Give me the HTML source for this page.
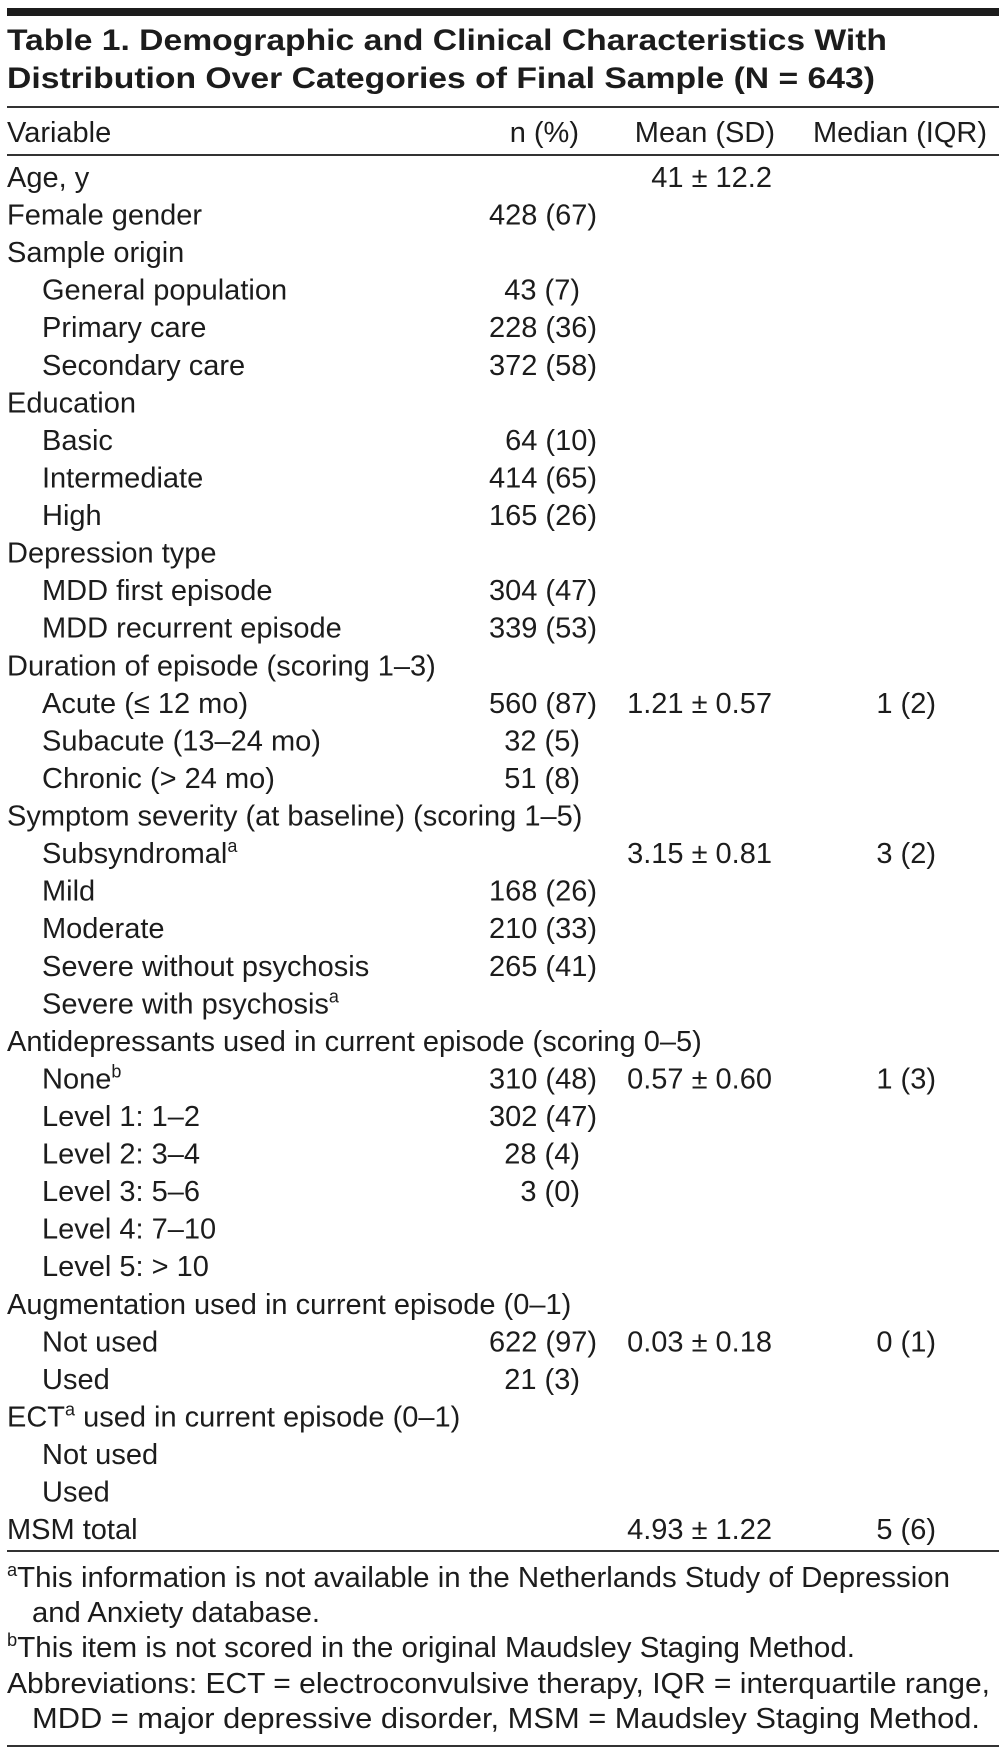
<!DOCTYPE html>
<html><head><meta charset="utf-8"><style>
html,body{margin:0;padding:0;background:#fff;}
svg{display:block;}
text{font-family:"Liberation Sans",sans-serif;font-size:29px;fill:#1c1c1c;}
.t{font-weight:bold;font-size:30px;}
.r{text-anchor:end;}
</style></head><body>
<svg width="999" height="1755" viewBox="0 0 999 1755" xmlns="http://www.w3.org/2000/svg">
<rect x="7" y="8" width="992" height="8" fill="#1c1c1c"/>
<text class="t" x="7" y="50" textLength="880" lengthAdjust="spacingAndGlyphs">Table 1. Demographic and Clinical Characteristics With</text>
<text class="t" x="7" y="88" textLength="868" lengthAdjust="spacingAndGlyphs">Distribution Over Categories of Final Sample (N = 643)</text>
<rect x="7" y="106" width="992" height="2" fill="#333"/>
<text x="7" y="142">Variable</text>
<text class="r" x="579" y="142">n (%)</text>
<text class="r" x="775" y="142">Mean (SD)</text>
<text class="r" x="987" y="142">Median (IQR)</text>
<rect x="7" y="154" width="992" height="2" fill="#333"/>

<g>
<text x="7" y="187">Age, y</text><text class="r" x="772" y="187">41 ± 12.2</text>
<text x="7" y="224.6">Female gender</text><text class="r" x="597" y="224.6">428 (67)</text>
<text x="7" y="262.1">Sample origin</text>
<text x="42" y="299.7">General population</text><text class="r" x="580" y="299.7">43 (7)</text>
<text x="42" y="337.2">Primary care</text><text class="r" x="597" y="337.2">228 (36)</text>
<text x="42" y="374.8">Secondary care</text><text class="r" x="597" y="374.8">372 (58)</text>
<text x="7" y="412.4">Education</text>
<text x="42" y="449.9">Basic</text><text class="r" x="597" y="449.9">64 (10)</text>
<text x="42" y="487.5">Intermediate</text><text class="r" x="597" y="487.5">414 (65)</text>
<text x="42" y="525">High</text><text class="r" x="597" y="525">165 (26)</text>
<text x="7" y="562.6">Depression type</text>
<text x="42" y="600.2">MDD first episode</text><text class="r" x="597" y="600.2">304 (47)</text>
<text x="42" y="637.7">MDD recurrent episode</text><text class="r" x="597" y="637.7">339 (53)</text>
<text x="7" y="675.3">Duration of episode (scoring 1–3)</text>
<text x="42" y="712.8">Acute (≤ 12 mo)</text><text class="r" x="597" y="712.8">560 (87)</text><text class="r" x="772" y="712.8">1.21 ± 0.57</text><text class="r" x="936" y="712.8">1 (2)</text>
<text x="42" y="750.4">Subacute (13–24 mo)</text><text class="r" x="580" y="750.4">32 (5)</text>
<text x="42" y="788">Chronic (&gt; 24 mo)</text><text class="r" x="580" y="788">51 (8)</text>
<text x="7" y="825.5">Symptom severity (at baseline) (scoring 1–5)</text>
<text x="42" y="863.1">Subsyndromal<tspan font-size="18" dy="-11">a</tspan></text><text class="r" x="772" y="863.1">3.15 ± 0.81</text><text class="r" x="936" y="863.1">3 (2)</text>
<text x="42" y="900.6">Mild</text><text class="r" x="597" y="900.6">168 (26)</text>
<text x="42" y="938.2">Moderate</text><text class="r" x="597" y="938.2">210 (33)</text>
<text x="42" y="975.8">Severe without psychosis</text><text class="r" x="597" y="975.8">265 (41)</text>
<text x="42" y="1013.3">Severe with psychosis<tspan font-size="18" dy="-11">a</tspan></text>
<text x="7" y="1050.9">Antidepressants used in current episode (scoring 0–5)</text>
<text x="42" y="1088.4">None<tspan font-size="18" dy="-11">b</tspan></text><text class="r" x="597" y="1088.4">310 (48)</text><text class="r" x="772" y="1088.4">0.57 ± 0.60</text><text class="r" x="936" y="1088.4">1 (3)</text>
<text x="42" y="1126">Level 1: 1–2</text><text class="r" x="597" y="1126">302 (47)</text>
<text x="42" y="1163.6">Level 2: 3–4</text><text class="r" x="580" y="1163.6">28 (4)</text>
<text x="42" y="1201.1">Level 3: 5–6</text><text class="r" x="580" y="1201.1">3 (0)</text>
<text x="42" y="1238.7">Level 4: 7–10</text>
<text x="42" y="1276.2">Level 5: &gt; 10</text>
<text x="7" y="1313.8">Augmentation used in current episode (0–1)</text>
<text x="42" y="1351.4">Not used</text><text class="r" x="597" y="1351.4">622 (97)</text><text class="r" x="772" y="1351.4">0.03 ± 0.18</text><text class="r" x="936" y="1351.4">0 (1)</text>
<text x="42" y="1388.9">Used</text><text class="r" x="580" y="1388.9">21 (3)</text>
<text x="7" y="1426.5">ECT<tspan font-size="18" dy="-11">a</tspan><tspan dy="11"> used in current episode (0–1)</tspan></text>
<text x="42" y="1464">Not used</text>
<text x="42" y="1501.6">Used</text>
<text x="7" y="1539">MSM total</text><text class="r" x="772" y="1539">4.93 ± 1.22</text><text class="r" x="936" y="1539">5 (6)</text>
</g>
<rect x="7" y="1550" width="992" height="2" fill="#333"/>
<text x="7" y="1587" textLength="943" lengthAdjust="spacingAndGlyphs"><tspan font-size="18" dy="-11">a</tspan><tspan dy="11">This information is not available in the Netherlands Study of Depression</tspan></text>
<text x="32" y="1622" textLength="288" lengthAdjust="spacingAndGlyphs">and Anxiety database.</text>
<text x="7" y="1657" textLength="848" lengthAdjust="spacingAndGlyphs"><tspan font-size="18" dy="-11">b</tspan><tspan dy="11">This item is not scored in the original Maudsley Staging Method.</tspan></text>
<text x="7" y="1693" textLength="983" lengthAdjust="spacingAndGlyphs">Abbreviations: ECT = electroconvulsive therapy, IQR = interquartile range,</text>
<text x="32" y="1728" textLength="948" lengthAdjust="spacingAndGlyphs">MDD = major depressive disorder, MSM = Maudsley Staging Method.</text>
<rect x="7" y="1745" width="992" height="2" fill="#333"/>
</svg>
</body></html>
